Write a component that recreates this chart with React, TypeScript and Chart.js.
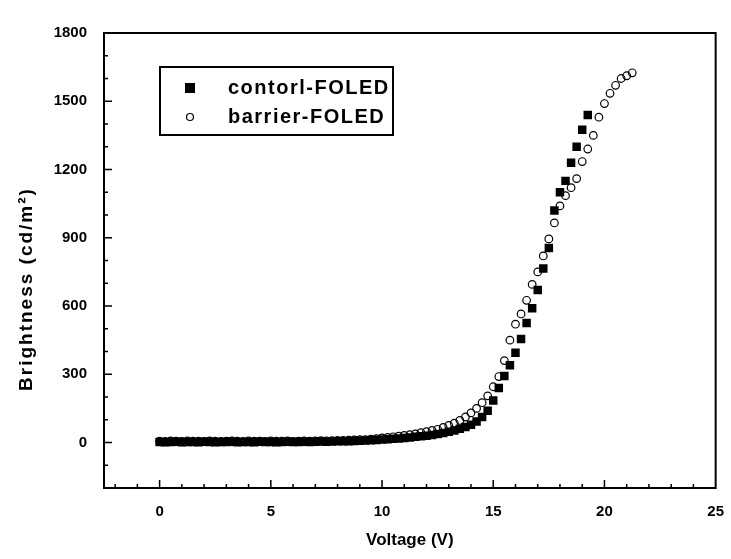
import React, { useEffect, useRef } from 'react';
import { Chart, registerables } from 'chart.js';

Chart.register(...registerables);

// Voltage (V) sample points
const VOLTAGE = [
  0, 0.25, 0.5, 0.75, 1, 1.25, 1.5, 1.75, 2, 2.25, 2.5, 2.75, 3, 3.25, 3.5, 3.75,
  4, 4.25, 4.5, 4.75, 5, 5.25, 5.5, 5.75, 6, 6.25, 6.5, 6.75, 7, 7.25, 7.5, 7.75,
  8, 8.25, 8.5, 8.75, 9, 9.25, 9.5, 9.75, 10, 10.25, 10.5, 10.75, 11, 11.25, 11.5, 11.75,
  12, 12.25, 12.5, 12.75, 13, 13.25, 13.5, 13.75, 14, 14.25, 14.5, 14.75, 15, 15.25, 15.5, 15.75,
  16, 16.25, 16.5, 16.75, 17, 17.25, 17.5, 17.75, 18, 18.25, 18.5, 18.75, 19, 19.25, 19.5, 19.75,
  20, 20.25, 20.5, 20.75, 21, 21.25,
];

// Brightness (cd/m2) — control device (0 .. 19.25 V)
const CONTROL = [
  2, 1, 2, 3, 1, 2, 2, 1, 3, 2,
  1, 2, 2, 3, 1, 2, 2, 1, 3, 2,
  2, 1, 2, 3, 2, 2, 3, 2, 3, 4,
  3, 4, 5, 5, 6, 7,
  8, 9, 10, 11, 13, 14, 16, 18, 20, 22,
  25, 27, 30, 33, 37, 42, 47, 53, 60, 68,
  78, 92, 112, 140, 185, 240, 292, 340, 395, 455,
  525, 590, 670, 765, 855, 1020, 1100, 1150, 1230, 1300,
  1375, 1440,
];

// Brightness (cd/m2) — barrier device (0 .. 21.25 V)
const BARRIER = [
  6, 5, 7, 6, 5, 7, 6, 6, 5, 7,
  6, 5, 6, 7, 6, 5, 7, 6, 6, 5,
  7, 6, 6, 7, 5, 6, 7, 6, 7, 8,
  7, 8, 9, 9, 10, 11,
  12, 13, 15, 17, 20, 22, 25, 28, 31, 34,
  38, 43, 48, 53, 58, 66, 75, 85, 97, 112,
  130, 150, 175, 205, 245, 290, 360, 450, 520, 565,
  625, 695, 750, 820, 895, 965, 1040, 1085, 1120, 1160,
  1235, 1290, 1350, 1430, 1490, 1535, 1570, 1600, 1612, 1625,
];

const SERIES_NAMES = ['contorl-FOLED', 'barrier-FOLED'];
const X_TICKS = [0, 5, 10, 15, 20, 25];
const Y_TICKS = [0, 300, 600, 900, 1200, 1500, 1800];
const X_TITLE = 'Voltage (V)';
const Y_TITLE = 'Brightness (cd/m\u00B2)';

const FONT = '"Liberation Sans", Arial, Helvetica, sans-serif';

const decorPlugin = {
  id: 'decor',
  afterDraw(chart: any) {
    const { ctx, chartArea: a, scales } = chart;
    const xs = scales.x;
    const ys = scales.y;
    ctx.save();
    ctx.strokeStyle = '#000';
    ctx.fillStyle = '#000';

    // inward tick marks
    ctx.lineWidth = 1.5;
    ctx.beginPath();
    for (let v = -2; v <= 24; v++) {
      const px = xs.getPixelForValue(v);
      const len = v % 5 === 0 ? 8 : 4;
      ctx.moveTo(px, a.bottom);
      ctx.lineTo(px, a.bottom - len);
    }
    for (let v = -100; v <= 1700; v += 100) {
      const py = ys.getPixelForValue(v);
      const len = v % 300 === 0 ? 8 : 4;
      ctx.moveTo(a.left, py);
      ctx.lineTo(a.left + len, py);
    }
    ctx.stroke();

    // frame
    ctx.lineWidth = 2;
    ctx.strokeRect(a.left, a.top, a.right - a.left, a.bottom - a.top);

    // y-axis title
    ctx.save();
    ctx.translate(27, 289);
    ctx.rotate(-Math.PI / 2);
    ctx.font = `bold 19px ${FONT}`;
    (ctx as any).letterSpacing = '2px';
    ctx.textAlign = 'center';
    ctx.textBaseline = 'middle';
    ctx.fillText(Y_TITLE, 0, 0);
    ctx.restore();

    // legend
    const lx = a.left + 56;
    const ly = a.top + 34;
    const lw = 233;
    const lh = 68;
    ctx.lineWidth = 2;
    ctx.strokeRect(lx, ly, lw, lh);
    ctx.font = `bold 20px ${FONT}`;
    (ctx as any).letterSpacing = '1.5px';
    ctx.textAlign = 'left';
    ctx.textBaseline = 'middle';
    const rows = [ly + 21, ly + 50];
    chart.data.datasets.forEach((ds: any, i: number) => {
      const cy = rows[i];
      const cx = lx + 30;
      if (ds.pointStyle === 'rect') {
        ctx.fillRect(cx - 5, cy - 5, 10, 10);
      } else {
        ctx.lineWidth = 1.2;
        ctx.beginPath();
        ctx.arc(cx, cy, 3.5, 0, Math.PI * 2);
        ctx.stroke();
      }
      ctx.fillText(ds.label, lx + 68, cy);
    });
    ctx.restore();
  },
};

export default function App() {
  const canvasRef = useRef<HTMLCanvasElement | null>(null);

  useEffect(() => {
    if (!canvasRef.current) return;
    const controlPts = CONTROL.map((y, i) => ({ x: VOLTAGE[i], y }));
    const barrierPts = BARRIER.map((y, i) => ({ x: VOLTAGE[i], y }));

    const chart = new Chart(canvasRef.current, {
      type: 'scatter',
      data: {
        datasets: [
          {
            label: SERIES_NAMES[0],
            data: controlPts,
            pointStyle: 'rect',
            pointRadius: 6,
            backgroundColor: '#000',
            borderColor: '#000',
            borderWidth: 0,
          },
          {
            label: SERIES_NAMES[1],
            data: barrierPts,
            pointStyle: 'circle',
            pointRadius: 3.8,
            backgroundColor: 'rgba(255,255,255,0)',
            borderColor: '#000',
            borderWidth: 1.2,
          },
        ],
      },
      options: {
        responsive: false,
        animation: false,
        layout: { padding: { top: 33, right: 13, left: 0, bottom: 0 } },
        plugins: {
          legend: { display: false },
          tooltip: { enabled: false },
        },
        scales: {
          x: {
            type: 'linear',
            min: -2.5,
            max: 25,
            grid: { display: false },
            border: { display: false },
            afterBuildTicks: (s: any) => {
              s.ticks = X_TICKS.map((v) => ({ value: v }));
            },
            afterFit: (s: any) => {
              s.height = 71;
            },
            ticks: {
              color: '#000',
              padding: 7,
              maxRotation: 0,
              callback: (v: any) => String(v),
              font: { family: FONT, size: 15, weight: 'bold' },
            },
            title: {
              display: true,
              text: X_TITLE,
              color: '#000',
              padding: { top: 0, bottom: 8 },
              font: { family: FONT, size: 17, weight: 'bold' },
            },
          },
          y: {
            type: 'linear',
            min: -200,
            max: 1800,
            grid: { display: false },
            border: { display: false },
            afterBuildTicks: (s: any) => {
              s.ticks = Y_TICKS.map((v) => ({ value: v }));
            },
            afterFit: (s: any) => {
              s.width = 104;
            },
            ticks: {
              color: '#000',
              padding: 9,
              callback: (v: any) => String(v),
              font: { family: FONT, size: 15, weight: 'bold' },
            },
          },
        },
      },
      plugins: [decorPlugin],
    } as any);

    return () => chart.destroy();
  }, []);

  return (
    <div style={{ position: 'fixed', left: 0, top: 0, width: 731, height: 559, background: '#fff' }}>
      <canvas ref={canvasRef} width={731} height={559} style={{ display: 'block' }} />
    </div>
  );
}
